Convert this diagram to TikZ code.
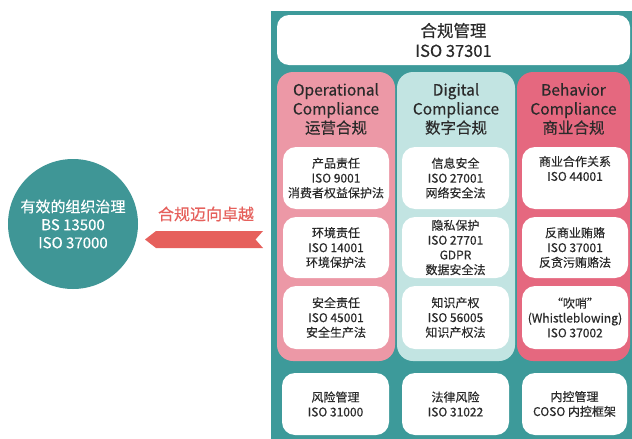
\documentclass[tikz,border=0pt]{standalone}
\usepackage{fontspec}
\setmainfont{Noto Sans CJK SC}[FakeBold=0.35]
\definecolor{panel}{HTML}{3D9A9A}
\definecolor{circ}{HTML}{3F9696}
\definecolor{colA}{HTML}{EC98A6}
\definecolor{colB}{HTML}{C2E4E2}
\definecolor{colC}{HTML}{E5687F}
\definecolor{ribbon}{HTML}{E6605C}
\definecolor{txt}{HTML}{2A2A2A}
\begin{document}
\begin{tikzpicture}[x=1pt,y=-1pt,
  colbox/.style={rounded corners=16pt, minimum width=#1, minimum height=289pt, inner sep=0pt},
  inbox/.style={rounded corners=13pt, fill=white, inner sep=0pt, align=center, text=txt,
     font=\fontsize{12}{14.8}\selectfont},
  coltitle/.style={align=center, text=txt, inner sep=0pt, font=\fontsize{15.5}{19}\selectfont},
]
\useasboundingbox (0,0) rectangle (632,439);
\fill[white] (0,0) rectangle (632,439);
% panel
\fill[panel] (271,11) rectangle (632,439);
% top box
\node[rounded corners=12pt, fill=white, minimum width=353pt, minimum height=50pt, inner sep=0pt,
  align=center, text=txt, font=\fontsize{16.5}{20}\selectfont] (top) at (453.5,40) {合规管理\\ISO 37301};
% columns
\node[colbox=118pt, fill=colA] (c1) at (336,216.5) {};
\node[colbox=118pt, fill=colB] (c2) at (456,216.5) {};
\node[colbox=113pt, fill=colC] (c3) at (573.5,216.5) {};
\node[coltitle] (t1) at (336,109) {Operational\\Compliance\\运营合规};
\node[coltitle] (t2) at (456,109) {Digital\\Compliance\\数字合规};
\node[coltitle] (t3) at (573.5,109) {Behavior\\Compliance\\商业合规};
% row 1
\node[inbox, minimum width=106pt, minimum height=62pt] (a1) at (336,178) {产品责任\\ISO 9001\\消费者权益保护法};
\node[inbox, minimum width=107pt, minimum height=62pt] (b1) at (455.5,178) {信息安全\\ISO 27001\\网络安全法};
\node[inbox, minimum width=106pt, minimum height=62pt] (d1) at (575,178) {商业合作关系\\ISO 44001\\\strut};
% row 2
\node[inbox, minimum width=106pt, minimum height=61pt] (a2) at (336,247.5) {环境责任\\ISO 14001\\环境保护法};
\node[inbox, minimum width=107pt, minimum height=61pt] (b2) at (455.5,247.5) {隐私保护\\ISO 27701\\GDPR\\数据安全法};
\node[inbox, minimum width=106pt, minimum height=61pt] (d2) at (575,247.5) {反商业贿赂\\ISO 37001\\反贪污贿赂法};
% row 3
\node[inbox, minimum width=106pt, minimum height=63pt] (a3) at (336,317.5) {安全责任\\ISO 45001\\安全生产法};
\node[inbox, minimum width=107pt, minimum height=63pt] (b3) at (455.5,317.5) {知识产权\\ISO 56005\\知识产权法};
\node[inbox, minimum width=106pt, minimum height=63pt] (d3) at (575,317.5) {“吹哨”\\(Whistleblowing)\\ISO 37002};
% bottom row
\node[inbox, minimum width=107pt, minimum height=62pt] (a4) at (335.5,404) {风险管理\\ISO 31000};
\node[inbox, minimum width=107pt, minimum height=62pt] (b4) at (455.5,404) {法律风险\\ISO 31022};
\node[inbox, minimum width=105pt, minimum height=62pt] (d4) at (574.5,404) {内控管理\\COSO 内控框架};
% circle
\node[circle, fill=circ, minimum size=130pt, inner sep=0pt, align=center, text=white,
  font=\fontsize{15}{18}\selectfont] (gov) at (73,224) {有效的组织治理\\BS 13500\\ISO 37000};
% ribbon arrow
\node[text=ribbon, inner sep=0pt, font=\fontsize{16}{18}\selectfont] (lab) at (206,214) {合规迈向卓越};
\coordinate (tip) at (145,239.5);
\coordinate (notch) at (255.5,239.5);
\fill[ribbon] (tip) -- (156,231) -- (263,231) -- (notch) -- (263,248) -- (156,248) -- cycle;
\end{tikzpicture}
\end{document}
